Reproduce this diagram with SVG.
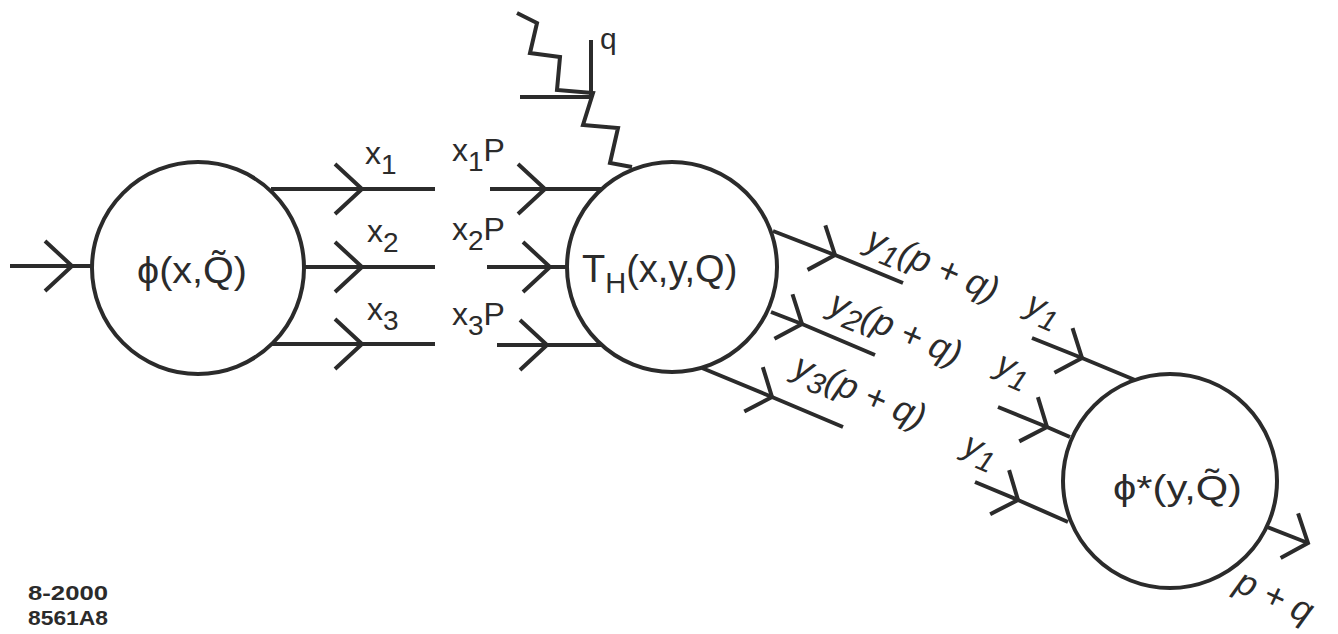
<svg xmlns="http://www.w3.org/2000/svg" width="1338" height="634" viewBox="0 0 1338 634">
<style>
.ln{fill:none;stroke:#2b2b2b;stroke-width:4;stroke-linecap:butt;stroke-linejoin:miter}
.nd{fill:#fff;stroke:#2b2b2b;stroke-width:4}
.t{font-family:"Liberation Sans",Arial,sans-serif;fill:#2b2b2b}
.it{font-style:italic}
</style>
<defs>
<marker id="chevH" viewBox="-32 -30 36 60" markerWidth="36" markerHeight="60" refX="0" refY="0" orient="auto" markerUnits="userSpaceOnUse">
<path d="M-27,-25 L0,0 L-27,25" fill="none" stroke="#2b2b2b" stroke-width="4"/>
</marker>
<marker id="chevD" viewBox="-26 -30 30 60" markerWidth="30" markerHeight="60" refX="0" refY="0" orient="auto" markerUnits="userSpaceOnUse">
<path d="M-20,-24 L0,0 L-20,24" fill="none" stroke="#2b2b2b" stroke-width="4"/>
</marker>
</defs>
<rect width="1338" height="634" fill="#fff"/>
<g id="connectors">
<path class="ln" marker-mid="url(#chevH)" d="M10,266 L72,266 L92,266"/>
<path class="ln" marker-mid="url(#chevH)" d="M271,189 L362,189 L435,189"/>
<path class="ln" marker-mid="url(#chevH)" d="M304,267 L362,267 L435,267"/>
<path class="ln" marker-mid="url(#chevH)" d="M271,344 L362,344 L435,344"/>
<path class="ln" marker-mid="url(#chevH)" d="M490,189 L545,189 L602,189"/>
<path class="ln" marker-mid="url(#chevH)" d="M487,267 L550,267 L568,267"/>
<path class="ln" marker-mid="url(#chevH)" d="M497,345 L547,345 L602,345"/>
<path class="ln" marker-mid="url(#chevD)" d="M773,231 L835,255 L903,283"/>
<path class="ln" marker-mid="url(#chevD)" d="M771,312 L802,324 L875,355"/>
<path class="ln" marker-mid="url(#chevD)" d="M702,368 L772,397 L843,427"/>
<path class="ln" marker-mid="url(#chevD)" d="M1032,338 L1082,358 L1135,380"/>
<path class="ln" marker-mid="url(#chevD)" d="M998,407 L1047,427 L1070,437"/>
<path class="ln" marker-mid="url(#chevD)" d="M975,482 L1018,500 L1068,522"/>
<path class="ln" marker-end="url(#chevD)" d="M1267,527 L1308,543"/>
<polyline class="ln" points="517,13 537,23 530,53 560,57 557,90 593,93 583,125 618,128 610,163 632,167"/>
<path class="ln" d="M520,97 L593,97 M591,40 L591,97"/>
</g>
<g id="phi">
<circle class="nd" cx="198" cy="268" r="106"/>
<text class="t" x="137" y="283" font-size="36" textLength="110" lengthAdjust="spacingAndGlyphs">ϕ(x,Q̃)</text>
</g>
<g id="TH">
<circle class="nd" cx="672" cy="267" r="105"/>
<text class="t" x="582" y="282" font-size="38">T<tspan font-size="29" dy="11">H</tspan><tspan dy="-11">(x,y,Q)</tspan></text>
</g>
<g id="phistar">
<circle class="nd" cx="1170" cy="481" r="107"/>
<text class="t" x="1113" y="500" font-size="35" textLength="129" lengthAdjust="spacingAndGlyphs">ϕ*(y,Q̃)</text>
</g>
<g id="labels">
<text class="t" x="365" y="164" font-size="32">x<tspan font-size="28" dy="10">1</tspan></text>
<text class="t" x="367" y="242" font-size="32">x<tspan font-size="28" dy="10">2</tspan></text>
<text class="t" x="367" y="320" font-size="32">x<tspan font-size="28" dy="10">3</tspan></text>
<text class="t" x="452" y="161" font-size="32">x<tspan font-size="28" dy="10">1</tspan><tspan dy="-10">P</tspan></text>
<text class="t" x="452" y="240" font-size="32">x<tspan font-size="28" dy="10">2</tspan><tspan dy="-10">P</tspan></text>
<text class="t" x="452" y="325" font-size="32">x<tspan font-size="28" dy="10">3</tspan><tspan dy="-10">P</tspan></text>
<text class="t" x="600" y="49" font-size="30">q</text>
<text class="t it" font-size="36" transform="translate(864,248) rotate(23)">y<tspan font-size="30" dy="8">1</tspan><tspan dy="-8">(p + q)</tspan></text>
<text class="t it" font-size="36" transform="translate(827,312) rotate(23)">y<tspan font-size="30" dy="8">2</tspan><tspan dy="-8">(p + q)</tspan></text>
<text class="t it" font-size="36" transform="translate(791,375) rotate(23)">y<tspan font-size="30" dy="8">3</tspan><tspan dy="-8">(p + q)</tspan></text>
<text class="t it" font-size="35" transform="translate(1024,312) rotate(23)">y<tspan font-size="29" dy="8">1</tspan></text>
<text class="t it" font-size="35" transform="translate(994,372) rotate(23)">y<tspan font-size="29" dy="8">1</tspan></text>
<text class="t it" font-size="35" transform="translate(961,453) rotate(23)">y<tspan font-size="29" dy="8">1</tspan></text>
<text class="t it" font-size="36" transform="translate(1233,590) rotate(25)">p + q</text>
<text class="t" x="28" y="600" font-size="21" font-weight="bold" textLength="80" lengthAdjust="spacingAndGlyphs">8-2000</text>
<text class="t" x="28" y="625" font-size="21" font-weight="bold" textLength="80" lengthAdjust="spacingAndGlyphs">8561A8</text>
</g>
</svg>
